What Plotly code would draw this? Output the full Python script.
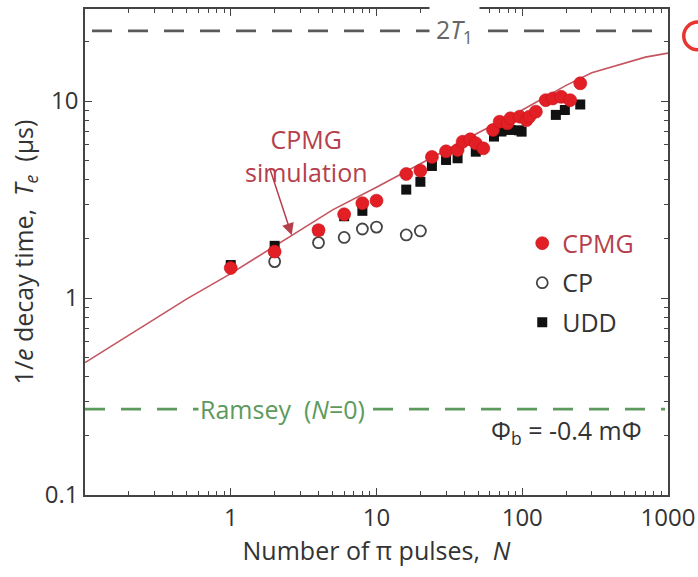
import numpy as np
import plotly.graph_objects as go

# Decay time vs number of pi pulses (microseconds)
cpmg_n = [1, 2, 4, 6, 8, 10, 16, 20, 24, 30, 36, 39, 44, 48, 54, 63, 70, 79, 83, 96, 107, 112,
          124, 145, 162, 185, 213, 250]
cpmg_t = [1.42, 1.72, 2.21, 2.66, 3.03, 3.12, 4.26, 4.43, 5.2, 5.55, 5.64, 6.21, 6.39, 6.1, 5.75,
          7.13, 7.85, 7.7, 8.17, 8.33, 8.0, 8.33, 8.83, 10.1, 10.3, 10.5, 10.1, 12.3]

cp_n = [2, 4, 6, 8, 10, 16, 20]
cp_t = [1.53, 1.91, 2.03, 2.24, 2.29, 2.09, 2.19]

udd_n = [1, 2, 4, 6, 8, 16, 20, 24, 30, 36, 48, 64, 72, 83, 95, 99, 170, 196, 250]
udd_t = [1.47, 1.84, 2.2, 2.6, 2.77, 3.55, 3.89, 4.68, 5.02, 5.12, 5.53, 6.6, 7.0, 7.13, 7.1, 6.99,
         8.5, 9.0, 9.6]

# CPMG simulation curve
sim_n = [0.1, 0.2, 0.5, 1, 2, 3, 5, 10, 20, 30, 50, 100, 200, 300, 500, 700, 1000]
sim_t = [0.47, 0.65, 0.99, 1.33, 1.83, 2.22, 2.8, 3.65, 4.8, 5.65, 6.9, 9.0, 12.0, 13.9, 15.6,
         16.7, 17.5]

two_t1 = 22.7        # 2*T1 limit
ramsey_t = 0.273     # Ramsey (N=0) decay time
arrow_n = 2.62       # where the simulation label points

x_ticks = [1, 10, 100, 1000]
y_ticks = [0.1, 1, 10]
x_minor = [m * 10.0 ** d for d in range(-1, 3) for m in range(2, 10)]
y_minor = [m * 10.0 ** d for d in range(-1, 2) for m in range(2, 10)]

FONT = "Open Sans, Lato, DejaVu Sans, sans-serif"
RED = "#e31f26"
SIM_RED = "#c45560"
LABEL_RED = "#b5404c"
GREEN = "#5d9a5d"
GRAY = "#5a5a5a"
AXIS = "#444444"

fig = go.Figure()

fig.add_trace(go.Scatter(
    x=sim_n, y=sim_t, mode="lines", line=dict(color=SIM_RED, width=1.6),
    showlegend=False, hoverinfo="skip"))

fig.add_trace(go.Scatter(
    x=udd_n, y=udd_t, mode="markers", name="UDD", legendrank=3, legendgroup="udd",
    marker=dict(symbol="square", size=10, color="#111111", line=dict(width=0))))

fig.add_trace(go.Scatter(
    x=cp_n, y=cp_t, mode="markers", name="CP", legendrank=2, legendgroup="cp",
    marker=dict(symbol="circle-open", size=11, color="#444444", line=dict(width=1.8))))

fig.add_trace(go.Scatter(
    x=cpmg_n, y=cpmg_t, mode="markers",
    name=f"<span style='color:{LABEL_RED}'>CPMG</span>", legendrank=1, legendgroup="cpmg",
    marker=dict(symbol="circle", size=13, color=RED, line=dict(width=0.6, color="#c8141b"))))

# reference levels
fig.add_shape(type="line", xref="x domain", x0=0.012, x1=0.995, yref="y", y0=two_t1, y1=two_t1,
              line=dict(color=GRAY, width=2.6, dash="20px,16px"), layer="below")
fig.add_shape(type="line", xref="x domain", x0=0.0, x1=0.995, yref="y", y0=ramsey_t, y1=ramsey_t,
              line=dict(color=GREEN, width=2.6, dash="20px,16px"), layer="below")

fig.add_annotation(text="2<i>T</i><sub>1</sub>", xref="x domain", x=0.678, yref="y",
                   y=np.log10(two_t1), showarrow=False, bgcolor="white", borderpad=6,
                   font=dict(family=FONT, size=25, color="#666666"))
fig.add_annotation(text="Ramsey  (<i>N</i>=0)", xref="x domain", x=0.338, yref="y",
                   y=np.log10(ramsey_t), showarrow=False, bgcolor="white", borderpad=1,
                   font=dict(family=FONT, size=25, color=GREEN))
fig.add_annotation(text="Φ<sub>b</sub> = -0.4 mΦ", xref="x domain", x=0.958, xanchor="right",
                   yref="y domain", y=0.088, showarrow=False,
                   font=dict(family=FONT, size=25, color="#333333"))

# simulation label with arrow onto the curve
arrow_t = 10 ** np.interp(np.log10(arrow_n), np.log10(sim_n), np.log10(sim_t))
fig.add_annotation(text="CPMG<br>simulation", xref="x domain", x=0.271, yref="y domain", y=0.772,
                   showarrow=False, align="center",
                   font=dict(family=FONT, size=25, color=LABEL_RED))
fig.add_annotation(text=" ", x=np.log10(arrow_n), y=np.log10(arrow_t), ax=-23, ay=-70,
                   showarrow=True, arrowhead=2, arrowsize=1.6, arrowwidth=1.5,
                   arrowcolor=LABEL_RED, font=dict(size=2))

# partial panel marker at the right edge
fig.add_shape(type="circle", xref="paper", yref="paper",
              x0=1.027, x1=1.075, y0=0.916, y1=0.973,
              line=dict(color="#e8352f", width=3.5))

axis_common = dict(
    type="log", showline=True, linecolor=AXIS, linewidth=1.5, mirror="allticks",
    ticks="inside", ticklen=7, tickwidth=1.3, tickcolor=AXIS, showgrid=False, zeroline=False,
    tickfont=dict(family=FONT, size=24, color="#333333"),
)

fig.update_xaxes(**axis_common, range=[-1, 3], tickvals=x_ticks,
                 ticktext=[str(v) for v in x_ticks],
                 minor=dict(tickmode="array", tickvals=x_minor, ticks="inside", ticklen=4,
                            tickwidth=1, tickcolor=AXIS, showgrid=False),
                 title=dict(text="Number of π pulses,  <i>N</i>", standoff=8,
                            font=dict(family=FONT, size=25, color="#333333")))
fig.update_yaxes(**axis_common, range=[-1, 1.467], tickvals=y_ticks,
                 ticktext=["0.1", "1", "10"],
                 minor=dict(tickmode="array", tickvals=y_minor, ticks="inside", ticklen=4,
                            tickwidth=1, tickcolor=AXIS, showgrid=False),
                 title=dict(text="1/<i>e</i> decay time,  <i>T<sub>e</sub></i>  (μs)", standoff=4,
                            font=dict(family=FONT, size=25, color="#333333")))

fig.update_layout(
    width=698, height=577,
    margin=dict(l=85, r=30, t=9, b=82, autoexpand=False),
    paper_bgcolor="white", plot_bgcolor="white",
    font=dict(family=FONT, size=24, color="#333333"),
    legend=dict(x=0.75, xanchor="left", y=0.565, yanchor="top", bgcolor="rgba(0,0,0,0)",
                font=dict(family=FONT, size=25, color="#333333"), tracegroupgap=4,
                itemwidth=30),
)

fig.write_html("out.html")
